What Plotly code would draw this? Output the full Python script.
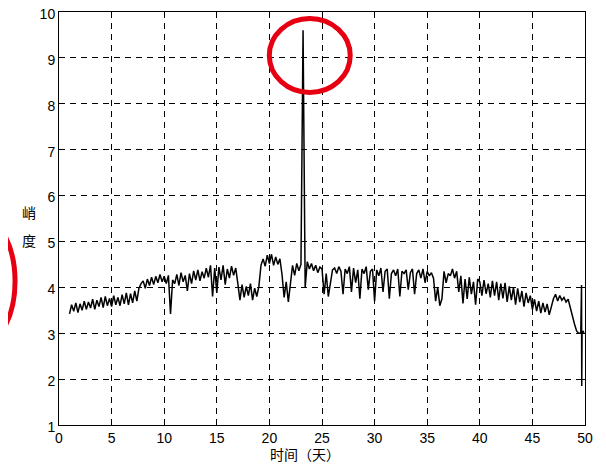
import plotly.graph_objects as go

# Kurtosis values sampled every 0.2 day starting at day 1.0
kurtosis = [
    3.42, 3.62, 3.48, 3.66, 3.45,
    3.64, 3.50, 3.70, 3.52, 3.68,
    3.55, 3.74, 3.52, 3.72, 3.58,
    3.78, 3.56, 3.80, 3.60, 3.76,
    3.58, 3.82, 3.62, 3.78, 3.60,
    3.84, 3.64, 3.88, 3.62, 3.86,
    3.66, 3.92, 3.70, 3.98, 4.08,
    4.14, 3.98, 4.18, 4.04, 4.22,
    4.06, 4.24, 4.10, 4.28, 4.12,
    4.24, 4.08, 4.26, 3.42, 4.16,
    4.08, 4.28, 4.04, 4.32, 4.12,
    4.26, 3.92, 4.30, 4.08, 4.36,
    4.16, 4.38, 4.14, 4.34, 4.20,
    4.42, 4.22, 4.48, 3.80, 4.42,
    3.88, 4.44, 4.16, 4.48, 4.06,
    4.40, 4.20, 4.46, 4.26, 4.42,
    4.08, 3.72, 4.06, 3.78, 4.02,
    3.82, 4.08, 3.72, 3.98, 3.80,
    4.02, 4.48, 4.62, 4.46, 4.70,
    4.52, 4.72, 4.48, 4.66, 4.50,
    4.62, 4.28, 3.78, 4.12, 3.68,
    4.02, 4.48, 4.26, 4.52, 4.36,
    4.50, 9.60, 4.00, 4.56, 4.40,
    4.52, 4.36, 4.48, 4.32, 4.44,
    4.40, 3.85, 4.30, 3.80, 4.10,
    4.38, 4.42, 4.30, 4.45, 4.35,
    3.85, 4.40, 4.30, 4.45, 3.90,
    4.42, 4.10, 4.38, 3.75, 4.40,
    4.30, 4.45, 3.95, 4.35, 4.40,
    3.70, 4.38, 4.25, 4.42, 3.90,
    4.35, 4.40, 3.75, 4.30, 4.38,
    4.25, 4.40, 3.80, 4.35, 4.30,
    4.38, 3.95, 4.32, 4.40, 3.85,
    4.30, 4.38, 4.20, 4.40, 4.10,
    4.35, 4.25, 4.32, 4.20, 3.70,
    4.00, 3.60, 3.75, 4.35, 4.10,
    4.30, 4.25, 4.40, 4.20, 4.35,
    3.90, 4.25, 3.65, 4.18, 3.75,
    4.22, 3.85, 4.12, 3.62, 4.18,
    4.12, 3.82, 4.16, 3.86, 4.08,
    3.78, 4.14, 3.82, 4.12, 3.72,
    4.08, 3.76, 4.10, 3.68, 4.02,
    3.72, 4.00, 3.62, 3.98, 3.68,
    3.92, 3.58, 3.88, 3.66, 3.82,
    3.52, 3.74, 3.48, 3.70, 3.44,
    3.66, 3.46, 3.64, 3.40, 3.60,
    3.75, 3.85, 3.70, 3.82, 3.72,
    3.78, 3.68, 3.74, 3.55, 3.40,
    3.20, 3.05, 3.00,
]
start_day = 1.0
step_day = 0.2
days = [start_day + step_day * i for i in range(len(kurtosis))]

# Final samples around the end-of-record jump
tail_days = [49.6, 49.67, 49.69, 49.72, 49.8, 49.9]
tail_kurtosis = [3.00, 4.05, 1.85, 3.00, 3.05, 3.00]

x_ticks = [0, 5, 10, 15, 20, 25, 30, 35, 40, 45, 50]
y_ticks = [1, 2, 3, 4, 5, 6, 7, 8, 9, 10]

fig = go.Figure()
fig.add_trace(go.Scatter(
    x=days + tail_days, y=kurtosis + tail_kurtosis,
    mode="lines", line=dict(color="black", width=1.5),
    showlegend=False, hoverinfo="skip",
))

# page has an 8px body margin; figure occupies page pixels 8..606 x 8..464
OFF = 8
W, H = 606 - OFF, 464 - OFF
L, R, T, B = 59 - OFF, 20.5, 12 - OFF, 38.5
pw, ph = W - L - R, H - T - B


def px(page_x):
    return (page_x - OFF - L) / pw


def py(page_y):
    return (H - B - (page_y - OFF)) / ph


axis_common = dict(
    showline=True, linecolor="black", linewidth=1, mirror="ticks",
    ticks="inside", ticklen=5, tickcolor="black",
    showgrid=True, gridcolor="black", gridwidth=1, griddash="6px,5px",
    zeroline=False, automargin=False, ticklabeloverflow="allow",
    tickfont=dict(family="Liberation Sans, Arial", size=14, color="black"),
)

cjk = dict(family="Noto Sans CJK SC", size=14, color="black")

fig.update_layout(
    width=W, height=H,
    margin=dict(l=L, r=R, t=T, b=B, pad=0, autoexpand=False),
    paper_bgcolor="white", plot_bgcolor="white",
    xaxis=dict(range=[0, 50], tickvals=x_ticks, **axis_common),
    yaxis=dict(range=[1, 10], tickvals=y_ticks, ticklabelshift=2,
               **axis_common),
    annotations=[
        dict(text="峭", xref="paper", yref="paper",
             x=px(29), y=py(212), showarrow=False, font=cjk,
             xanchor="center", yanchor="middle"),
        dict(text="度", xref="paper", yref="paper",
             x=px(29), y=py(240), showarrow=False, font=cjk,
             xanchor="center", yanchor="middle"),
        dict(text="时间（天）", xref="paper", yref="paper",
             x=px(305), y=py(454.5), showarrow=False, font=cjk,
             xanchor="center", yanchor="middle"),
    ],
    shapes=[
        dict(type="circle", xref="paper", yref="paper",
             x0=px(269.5), x1=px(350.5), y0=py(18.5), y1=py(92.5),
             line=dict(color="#e60012", width=5)),
        dict(type="circle", xref="paper", yref="paper",
             x0=px(-65), x1=px(15), y0=py(213.5), y1=py(349.5),
             line=dict(color="#e60012", width=5)),
    ],
)

fig.write_html("out.html")
